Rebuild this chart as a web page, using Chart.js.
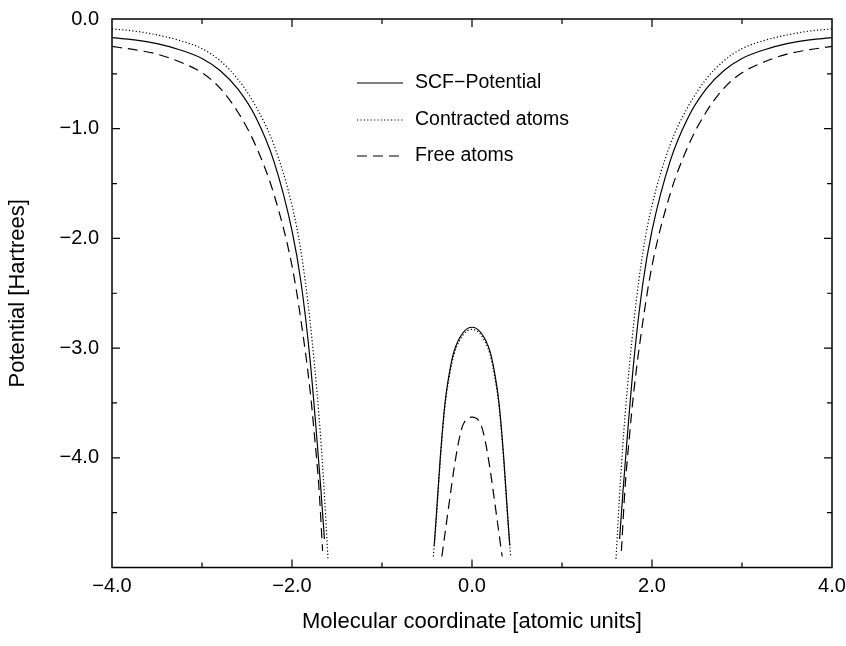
<!DOCTYPE html>
<html>
<head>
<meta charset="utf-8">
<script src="https://cdn.jsdelivr.net/npm/chart.js@4"></script>
<style>
  html, body { margin: 0; padding: 0; background: #fff; }
  #wrap { width: 846px; height: 646px; }
</style>
</head>
<body>
<div id="wrap"><canvas id="grafico" width="846" height="646"></canvas></div>
<script>
// ============ Datos (null = corte entre ramas) ============
var xScf = [-4.0, -3.75, -3.5, -3.25, -3.0, -2.8, -2.6, -2.4, -2.2, -2.0, -1.9, -1.8, -1.73, -1.68, -1.64, null,
            -0.42, -0.4, -0.35, -0.3, -0.25, -0.2, -0.1, 0.0, 0.1, 0.2, 0.25, 0.3, 0.35, 0.4, 0.42, null,
            1.64, 1.68, 1.73, 1.8, 1.9, 2.0, 2.2, 2.4, 2.6, 2.8, 3.0, 3.25, 3.5, 3.75, 4.0];
var yScf = [-0.17, -0.19, -0.225, -0.28, -0.36, -0.47, -0.64, -0.90, -1.30, -1.93, -2.40, -3.10, -3.76, -4.28, -4.74, null,
            -4.80, -4.57, -3.97, -3.50, -3.22, -3.03, -2.86, -2.81, -2.86, -3.03, -3.22, -3.50, -3.97, -4.57, -4.80, null,
            -4.74, -4.28, -3.76, -3.10, -2.40, -1.93, -1.30, -0.90, -0.64, -0.47, -0.36, -0.28, -0.225, -0.19, -0.17];

var xContr = [-4.0, -3.75, -3.5, -3.25, -3.0, -2.8, -2.6, -2.4, -2.2, -2.0, -1.9, -1.8, -1.7, -1.65, -1.6, null,
              -0.43, -0.4, -0.35, -0.3, -0.25, -0.2, -0.1, 0.0, 0.1, 0.2, 0.25, 0.3, 0.35, 0.4, 0.43, null,
              1.6, 1.65, 1.7, 1.8, 1.9, 2.0, 2.2, 2.4, 2.6, 2.8, 3.0, 3.25, 3.5, 3.75, 4.0];
var yContr = [-0.09, -0.11, -0.145, -0.195, -0.27, -0.38, -0.55, -0.80, -1.15, -1.70, -2.12, -2.75, -3.62, -4.20, -4.92, null,
              -4.90, -4.60, -4.00, -3.53, -3.25, -3.06, -2.88, -2.83, -2.88, -3.06, -3.25, -3.53, -4.00, -4.60, -4.90, null,
              -4.92, -4.20, -3.62, -2.75, -2.12, -1.70, -1.15, -0.80, -0.55, -0.38, -0.27, -0.195, -0.145, -0.11, -0.09];

var xFree = [-4.0, -3.75, -3.5, -3.25, -3.0, -2.8, -2.6, -2.4, -2.2, -2.0, -1.9, -1.8, -1.75, -1.7, -1.66, null,
             -0.335, -0.3, -0.25, -0.2, -0.15, -0.1, 0.0, 0.1, 0.15, 0.2, 0.25, 0.3, 0.335, null,
             1.66, 1.7, 1.75, 1.8, 1.9, 2.0, 2.2, 2.4, 2.6, 2.8, 3.0, 3.25, 3.5, 3.75, 4.0];
var yFree = [-0.25, -0.28, -0.32, -0.39, -0.49, -0.63, -0.85, -1.16, -1.60, -2.25, -2.75, -3.38, -3.80, -4.28, -4.85, null,
             -4.90, -4.69, -4.39, -4.10, -3.86, -3.70, -3.63, -3.70, -3.86, -4.10, -4.39, -4.69, -4.90, null,
             -4.85, -4.28, -3.80, -3.38, -2.75, -2.25, -1.60, -1.16, -0.85, -0.63, -0.49, -0.39, -0.32, -0.28, -0.25];

var etiquetas = ['SCF\u2212Potential', 'Contracted atoms', 'Free atoms'];
var tituloX = 'Molecular coordinate [atomic units]';
var tituloY = 'Potential [Hartrees]';

var FUENTE = '"Liberation Sans", Arial, Helvetica, sans-serif';

function puntos(xs, ys) {
    return xs.map((x, i) => ({ x: x, y: ys[i] }));
}

function formato(v) {
    return v.toFixed(1).replace('-', '\u2212');
}

// ============ Marco completo con marcas hacia adentro + leyenda ============
var pluginMarco = {
    id: 'marco',
    afterDatasetsDraw(chart) {
        const { ctx, chartArea: a, scales } = chart;
        ctx.save();
        ctx.strokeStyle = '#000';
        ctx.lineWidth = 1.5;
        ctx.strokeRect(a.left, a.top, a.right - a.left, a.bottom - a.top);

        ctx.lineWidth = 1.2;
        ctx.beginPath();
        scales.x.ticks.forEach(t => {
            const px = scales.x.getPixelForValue(t.value);
            if (px <= a.left + 1 || px >= a.right - 1) return;
            const len = (Math.round(t.value) % 2 === 0) ? 8 : 5;
            ctx.moveTo(px, a.bottom); ctx.lineTo(px, a.bottom - len);
            ctx.moveTo(px, a.top); ctx.lineTo(px, a.top + len);
        });
        scales.y.ticks.forEach(t => {
            const py = scales.y.getPixelForValue(t.value);
            if (py <= a.top + 1 || py >= a.bottom - 1) return;
            const len = Number.isInteger(t.value) ? 8 : 5;
            ctx.moveTo(a.left, py); ctx.lineTo(a.left + len, py);
            ctx.moveTo(a.right, py); ctx.lineTo(a.right - len, py);
        });
        ctx.stroke();

        // leyenda
        const filas = [83, 120, 156];
        ctx.font = '19.5px ' + FUENTE;
        ctx.fillStyle = '#000';
        ctx.textBaseline = 'middle';
        chart.data.datasets.forEach((ds, i) => {
            ctx.beginPath();
            ctx.lineWidth = ds.borderWidth;
            ctx.setLineDash(ds.borderDash || []);
            ctx.moveTo(357, filas[i]);
            ctx.lineTo(403, filas[i]);
            ctx.stroke();
            ctx.setLineDash([]);
            ctx.fillText(ds.label, 415, filas[i]);
        });
        ctx.restore();
    }
};

// ============ Gráfico ============
var chartPotencial = new Chart(document.getElementById('grafico'), {
    type: 'scatter',
    data: {
        datasets: [
            { label: etiquetas[0], data: puntos(xScf, yScf), borderColor: '#000', borderWidth: 1.2, borderDash: [] },
            { label: etiquetas[1], data: puntos(xContr, yContr), borderColor: '#000', borderWidth: 1.2, borderDash: [1.2, 2.2] },
            { label: etiquetas[2], data: puntos(xFree, yFree), borderColor: '#000', borderWidth: 1.2, borderDash: [10, 6] }
        ].map(ds => Object.assign(ds, {
            showLine: true,
            pointRadius: 0,
            pointHoverRadius: 0,
            spanGaps: false,
            cubicInterpolationMode: 'monotone',
            fill: false
        }))
    },
    options: {
        responsive: false,
        animation: false,
        events: [],
        layout: { padding: { top: 19, right: 14, left: 0, bottom: 0 } },
        plugins: {
            legend: { display: false },
            tooltip: { enabled: false }
        },
        scales: {
            x: {
                type: 'linear',
                min: -4, max: 4,
                grid: { display: false, drawTicks: false },
                border: { display: false },
                ticks: {
                    stepSize: 1,
                    autoSkip: false,
                    maxRotation: 0,
                    padding: 7,
                    color: '#000',
                    font: { family: FUENTE, size: 20 },
                    callback: v => (Math.round(v) % 2 === 0 ? formato(v) : '')
                },
                title: {
                    display: true,
                    text: tituloX,
                    color: '#000',
                    font: { family: FUENTE, size: 22 },
                    padding: { top: 0, bottom: 11 }
                },
                afterFit(scale) {
                    scale.height = 78.5;
                    scale.paddingLeft = 0;
                    scale.paddingRight = 0;
                }
            },
            y: {
                type: 'linear',
                min: -5, max: 0,
                grid: { display: false, drawTicks: false },
                border: { display: false },
                ticks: {
                    stepSize: 0.5,
                    autoSkip: false,
                    padding: 13,
                    color: '#000',
                    font: { family: FUENTE, size: 20 },
                    callback: v => (Number.isInteger(v) && v > -5 ? formato(v) : '')
                },
                title: {
                    display: true,
                    text: tituloY,
                    color: '#000',
                    font: { family: FUENTE, size: 22 },
                    padding: { top: 5, bottom: 0 }
                },
                afterFit(scale) {
                    scale.width = 112;
                    scale.paddingTop = 0;
                    scale.paddingBottom = 0;
                }
            }
        }
    },
    plugins: [pluginMarco]
});
</script>
</body>
</html>
